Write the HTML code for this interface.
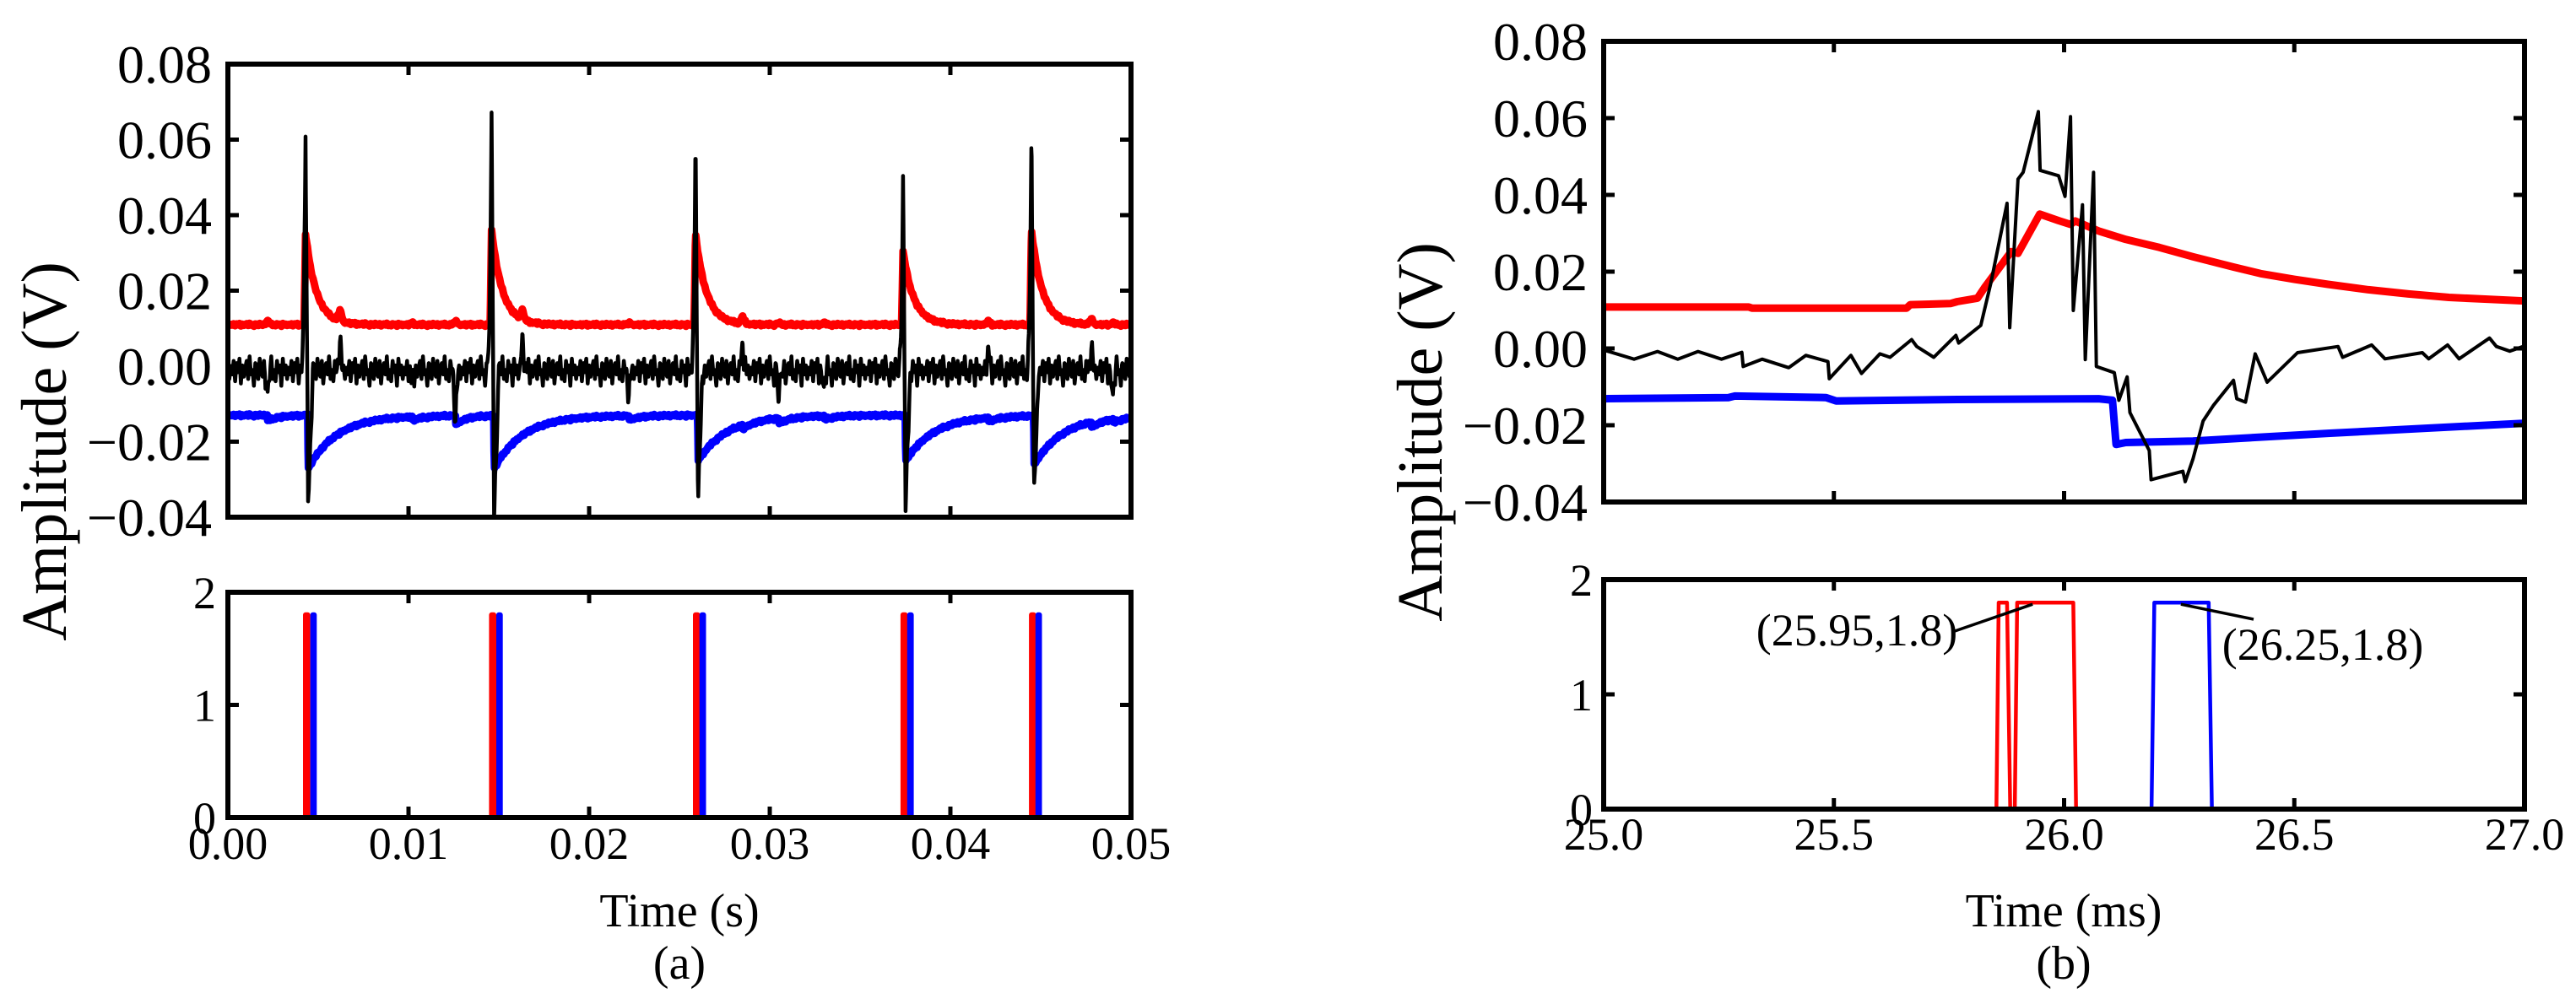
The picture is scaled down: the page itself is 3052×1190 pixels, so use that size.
<!DOCTYPE html>
<html><head><meta charset="utf-8">
<style>
html,body{margin:0;padding:0;background:#fff;}
svg{display:block;}
text{font-family:"Liberation Serif","Times New Roman",serif;}
</style></head>
<body>
<svg id="fig" width="3052" height="1190" viewBox="0 0 3052 1190" xmlns="http://www.w3.org/2000/svg" font-family="Liberation Serif, serif">
  <rect width="3052" height="1190" fill="#fff"/>
  <g id="panelA"></g>
  <g id="panelB"></g>
  <text font-family="Liberation Serif, serif" x="0" y="0" transform="translate(78,535) rotate(-90)" text-anchor="middle" font-size="76">Amplitude (V)</text>
  <text font-family="Liberation Serif, serif" x="0" y="0" transform="translate(1708,512) rotate(-90)" text-anchor="middle" font-size="76">Amplitude (V)</text>
  <text font-family="Liberation Serif, serif" x="805" y="1098" text-anchor="middle" font-size="56">Time (s)</text>
  <text font-family="Liberation Serif, serif" x="805" y="1160" text-anchor="middle" font-size="56">(a)</text>
  <text font-family="Liberation Serif, serif" x="2445" y="1098" text-anchor="middle" font-size="56">Time (ms)</text>
  <text font-family="Liberation Serif, serif" x="2445" y="1160" text-anchor="middle" font-size="56">(b)</text>
</svg>
<script>
// ---------- Panel (a) data ----------
const spikeTimes = [0.0043, 0.0146, 0.02589, 0.03738, 0.04449];
const blackPeaks = [0.063, 0.067, 0.0612, 0.0505, 0.0637];
const blackTroughs = [-0.036, -0.039, -0.0342, -0.0362, -0.0342];
const redBase = 0.011;
const redPeaks = [0.035, 0.036, 0.0349, 0.0304, 0.036];
const blueBase = -0.013;
const blueDips = [-0.027, -0.027, -0.025, -0.025, -0.026];
const blipTimes = [0.0022, 0.0062, 0.0102, 0.0126, 0.0163, 0.0222, 0.0285, 0.0305, 0.0330, 0.0421, 0.0478, 0.0490];
const blipBlack = [-0.007, 0.008, -0.004, -0.013, 0.008, -0.006, 0.007, -0.007, -0.006, 0.005, 0.006, -0.008];
const blipRed = [0.001, 0.003, 0.0005, 0.001, 0.0025, 0.0005, 0.002, 0.0005, 0.0005, 0.001, 0.0015, 0.0005];
const blipBlue = [-0.0015, 0, -0.001, -0.0025, 0, -0.0012, -0.001, -0.0015, -0.001, -0.001, -0.0015, -0.001];
const noiseVals = [0.001,-0.002,0.0005,-0.001,0.002,-0.0025,0.0015,-0.0005,0.0025,-0.003,0.001,-0.0015,0.0005,0.002,-0.002,0.003,-0.001,0.0,-0.0035,0.0015,0.001,-0.002,0.0025,-0.0005,-0.0015,0.002,-0.003,0.0005,0.0015,-0.001,0.003,-0.002,0.0,-0.0025,0.002,-0.0005,0.001,-0.0035,0.0025,-0.001];
const redPulseT = [0.0043, 0.0146, 0.02589, 0.03738, 0.04449];
const bluePulseT = [0.0047, 0.0150, 0.02625, 0.03775, 0.04485];
const pulseHigh = 1.8;
const xTicksA = ["0.00","0.01","0.02","0.03","0.04","0.05"];
const yTicksUpper = ["0.08","0.06","0.04","0.02","0.00","\u22120.02","\u22120.04"];
const yTicksLower = ["2","1","0"];

// ---------- Panel (b) data ----------
const bBlackT = [25.000,25.066,25.117,25.161,25.205,25.256,25.300,25.303,25.344,25.402,25.439,25.487,25.490,25.537,25.560,25.600,25.622,25.669,25.680,25.717,25.765,25.771,25.819,25.841,25.876,25.882,25.900,25.911,25.944,25.948,25.988,26.002,26.014,26.020,26.040,26.046,26.064,26.070,26.109,26.119,26.137,26.143,26.185,26.189,26.258,26.263,26.280,26.302,26.324,26.368,26.375,26.394,26.415,26.441,26.507,26.595,26.605,26.668,26.697,26.778,26.792,26.833,26.858,26.924,26.939,26.968,26.997];
const bBlackV = [-0.0004,-0.0028,-0.0008,-0.0028,-0.0008,-0.0028,-0.0010,-0.0047,-0.0028,-0.0050,-0.0018,-0.0034,-0.0079,-0.0018,-0.0065,-0.0014,-0.0023,0.0023,0.0005,-0.0023,0.0034,0.0014,0.0060,0.0171,0.0378,0.0054,0.0441,0.0459,0.0617,0.0464,0.0450,0.0396,0.0604,0.0099,0.0374,-0.0029,0.0459,-0.0047,-0.0063,-0.0135,-0.0074,-0.0167,-0.0266,-0.0342,-0.0320,-0.0347,-0.0288,-0.0189,-0.0149,-0.0083,-0.0131,-0.0140,-0.0014,-0.0088,-0.0011,0.0005,-0.0023,0.0009,-0.0027,-0.0011,-0.0027,0.0009,-0.0027,0.0027,0.0005,-0.0007,0.0005];
const bRedT = [25.000,25.315,25.322,25.658,25.666,25.753,25.768,25.812,25.827,25.885,25.900,25.947,25.988,26.014,26.024,26.075,26.134,26.207,26.280,26.368,26.427,26.500,26.573,26.661,26.748,26.836,26.924,26.997];
const bRedV = [0.0108,0.0108,0.0105,0.0105,0.0114,0.0117,0.0122,0.0131,0.0158,0.0252,0.0248,0.0350,0.0333,0.0323,0.0332,0.0306,0.0284,0.0263,0.0239,0.0212,0.0195,0.0180,0.0167,0.0153,0.0142,0.0133,0.0128,0.0124];
const bBlueT = [25.000,25.271,25.285,25.483,25.505,25.768,26.075,26.105,26.113,26.134,26.280,26.573,26.997];
const bBlueV = [-0.0131,-0.0128,-0.0124,-0.0128,-0.0137,-0.0133,-0.0131,-0.0135,-0.0250,-0.0245,-0.0241,-0.0221,-0.0195];
const bRedPulseT = [25.000,25.853,25.858,25.876,25.883,25.893,25.898,26.020,26.026,27.000];
const bRedPulseV = [0,0,1.8,1.8,0,0,1.8,1.8,0,0];
const bBluePulseT = [25.000,26.190,26.196,26.314,26.321,27.000];
const bBluePulseV = [0,0,1.8,1.8,0,0];
const xTicksB = ["25.0","25.5","26.0","26.5","27.0"];
const annotLabels = ["(25.95,1.8)","(26.25,1.8)"];
const annotX = [25.95, 26.25];
const annotY = [1.8, 1.8];

const NS = "http://www.w3.org/2000/svg";
function mk(parent, tag, attrs) {
  const e = document.createElementNS(NS, tag);
  for (const k in attrs) e.setAttribute(k, attrs[k]);
  parent.appendChild(e);
  return e;
}
function lin(d0, d1, r0, r1) { return v => r0 + (v - d0) / (d1 - d0) * (r1 - r0); }

const A = { x0: 270, x1: 1340, uy0: 76, uy1: 613, ly0: 702, ly1: 969 };
const B = { x0: 1900, x1: 2991, uy0: 49, uy1: 595, ly0: 687, ly1: 959 };
const xa = lin(0, 0.05, A.x0, A.x1);
const yaU = lin(0.08, -0.04, A.uy0, A.uy1);
const yaL = lin(2, 0, A.ly0, A.ly1);
const xb = lin(25, 27, B.x0, B.x1);
const ybU = lin(0.08, -0.04, B.uy0, B.uy1);
const ybL = lin(2, 0, B.ly0, B.ly1);

function frame(g, x0, x1, y0, y1, xTickPos, yTickPos, name) {
  for (const xp of xTickPos) {
    const t1 = mk(g, "line", {x1: xp, x2: xp, y1: y1, y2: y1 - 13, stroke: "#000", "stroke-width": 5});
    
    
    const t2 = mk(g, "line", {x1: xp, x2: xp, y1: y0, y2: y0 + 13, stroke: "#000", "stroke-width": 5});
    
    
  }
  for (const yp of yTickPos) {
    const t1 = mk(g, "line", {x1: x0, x2: x0 + 13, y1: yp, y2: yp, stroke: "#000", "stroke-width": 5});
    
    
    const t2 = mk(g, "line", {x1: x1, x2: x1 - 13, y1: yp, y2: yp, stroke: "#000", "stroke-width": 5});
    
    
  }
  const r = mk(g, "rect", {x: x0, y: y0, width: x1 - x0, height: y1 - y0, fill: "none", stroke: "#000", "stroke-width": 6});
  
  
}
function text(g, x, y, s, size, anchor, name) {
  const t = mk(g, "text", {x: x, y: y, "font-size": size, "text-anchor": anchor, "font-family": "Liberation Serif, serif"});
  t.textContent = s;
  
  
  return t;
}
function path(g, pts, color, w, name) {
  let d = "";
  pts.forEach((p, i) => { d += (i ? "L" : "M") + p[0].toFixed(1) + " " + p[1].toFixed(1); });
  const p = mk(g, "path", {d: d, fill: "none", stroke: color, "stroke-width": w, "stroke-linejoin": "round"});
  
  
  return p;
}

// ---------- Panel (a) ----------
const gA = document.getElementById("panelA");
function noise(t) {
  const f = t / 0.00008;
  const i = Math.floor(f), fr = f - i;
  const a = noiseVals[i % noiseVals.length], b = noiseVals[(i + 1) % noiseVals.length];
  return a + (b - a) * fr;
}
function tri(dt, w) { return Math.max(0, 1 - Math.abs(dt) / w); }
function blackA(t) {
  let v = -0.001 + noise(t) * 1.2;
  spikeTimes.forEach((s, k) => {
    const dt = t - s;
    if (dt > -0.0003 && dt <= 0) { v += blackPeaks[k] * Math.pow((dt + 0.0003) / 0.0003, 3); }
    else if (dt > 0 && dt <= 0.00014) { v += blackPeaks[k] + (blackTroughs[k] - blackPeaks[k]) * dt / 0.00014; }
    else if (dt > 0.00014 && dt <= 0.0004) { v += blackTroughs[k] * (1 - (dt - 0.00014) / 0.00026); }
  });
  blipTimes.forEach((b, k) => { v += blipBlack[k] * tri(t - b, 0.00015); });
  return v;
}
function redA(t) {
  let v = redBase + noise(t) * 0.12;
  spikeTimes.forEach((s, k) => {
    const dt = t - s;
    if (dt > -0.00008 && dt <= 0) v += (redPeaks[k] - redBase) * (dt + 0.00008) / 0.00008;
    else if (dt > 0) v += (redPeaks[k] - redBase) * Math.exp(-dt / 0.0006);
  });
  blipTimes.forEach((b, k) => { v += blipRed[k] * tri(t - b, 0.0002); });
  return v;
}
function blueA(t) {
  let v = blueBase + noise(t) * 0.12;
  spikeTimes.forEach((s, k) => {
    const dt = t - s - 0.00015;
    if (dt > -0.00003 && dt <= 0) v += (blueDips[k] - blueBase) * (dt + 0.00003) / 0.00003;
    else if (dt > 0) v += (blueDips[k] - blueBase) * Math.exp(-dt / 0.0016);
  });
  blipTimes.forEach((b, k) => { const dt = t - b; if (dt > 0) v += blipBlue[k] * Math.exp(-dt / 0.0006); });
  return v;
}
const gAU = mk(gA, "g", {});


const clipA = mk(gAU, "clipPath", {id: "clipAU"});
mk(clipA, "rect", {x: A.x0, y: A.uy0, width: A.x1 - A.x0, height: A.uy1 - A.uy0});
const blackPts = [], redPts = [], bluePts = [];
for (let t = 0; t <= 0.05; t += 0.00002) {
  blackPts.push([xa(t), yaU(blackA(t))]);
  redPts.push([xa(t), yaU(redA(t))]);
  bluePts.push([xa(t), yaU(blueA(t))]);
}
const cg = mk(gAU, "g", {"clip-path": "url(#clipAU)"});
path(cg, redPts, "#ff0000", 9, "red-series-a");
path(cg, bluePts, "#0000ff", 9, "blue-series-a");
path(cg, blackPts, "#000", 4.5, "black-series-a");
const yvU = [0.08, 0.06, 0.04, 0.02, 0, -0.02, -0.04];
frame(gAU, A.x0, A.x1, A.uy0, A.uy1, [0.01,0.02,0.03,0.04].map(xa), [0.06,0.04,0.02,0,-0.02].map(yaU), "upper-a");
yvU.forEach((v, i) => text(gAU, 251, yaU(v) + 22, yTicksUpper[i], 64, "end", "y-tick-label-a"));

const gAL = mk(gA, "g", {});


function pulsePts(times, xf, yf, w) {
  const pts = [[xf(0), yf(0)]];
  times.forEach(t => { pts.push([xf(t), yf(0)], [xf(t), yf(pulseHigh)], [xf(t + w), yf(pulseHigh)], [xf(t + w), yf(0)]); });
  pts.push([xf(0.05), yf(0)]);
  return pts;
}
path(gAL, pulsePts(redPulseT, xa, yaL, 0.00012), "#ff0000", 6, "red-pulses-a");
path(gAL, pulsePts(bluePulseT, xa, yaL, 0.00008), "#0000ff", 6, "blue-pulses-a");
frame(gAL, A.x0, A.x1, A.ly0, A.ly1, [0.01,0.02,0.03,0.04].map(xa), [yaL(1)], "lower-a");
[2, 1, 0].forEach((v, i) => text(gAL, 256, yaL(v) + 19, yTicksLower[i], 54, "end", "y-tick-label-a-lower"));
[0,0.01,0.02,0.03,0.04,0.05].forEach((v, i) => text(gAL, xa(v), 1018, xTicksA[i], 54, "middle", "x-tick-label-a"));

// ---------- Panel (b) ----------
const gB = document.getElementById("panelB");
const gBU = mk(gB, "g", {});


path(gBU, bRedT.map((t, i) => [xb(t), ybU(bRedV[i])]), "#ff0000", 9, "red-series-b");
path(gBU, bBlueT.map((t, i) => [xb(t), ybU(bBlueV[i])]), "#0000ff", 9, "blue-series-b");
path(gBU, bBlackT.map((t, i) => [xb(t), ybU(bBlackV[i])]), "#000", 4, "black-series-b");
frame(gBU, B.x0, B.x1, B.uy0, B.uy1, [25.5, 26, 26.5].map(xb), [0.06,0.04,0.02,0,-0.02].map(ybU), "upper-b");
yvU.forEach((v, i) => text(gBU, 1881, ybU(v) + 22, yTicksUpper[i], 64, "end", "y-tick-label-b"));

const gBL = mk(gB, "g", {});


path(gBL, bRedPulseT.map((t, i) => [xb(t), ybL(bRedPulseV[i])]), "#ff0000", 4.5, "red-pulse-b");
path(gBL, bBluePulseT.map((t, i) => [xb(t), ybL(bBluePulseV[i])]), "#0000ff", 4.5, "blue-pulse-b");
frame(gBL, B.x0, B.x1, B.ly0, B.ly1, [25.5, 26, 26.5].map(xb), [ybL(1)], "lower-b");
[2, 1, 0].forEach((v, i) => text(gBL, 1887, ybL(v) + 19, yTicksLower[i], 54, "end", "y-tick-label-b-lower"));
[25, 25.5, 26, 26.5, 27].forEach((v, i) => text(gBL, xb(v), 1007, xTicksB[i], 54, "middle", "x-tick-label-b"));
const ann1 = mk(gBL, "line", {x1: 2316, y1: 748, x2: xb(annotX[0]) - 10, y2: ybL(annotY[0]) + 2, stroke: "#000", "stroke-width": 3.5});


text(gBL, 2200, 765, annotLabels[0], 54, "middle", "annotation-label-1");
const ann2 = mk(gBL, "line", {x1: xb(annotX[1]) + 2, y1: ybL(annotY[1]) + 2, x2: 2670, y2: 734, stroke: "#000", "stroke-width": 3.5});


text(gBL, 2752, 782, annotLabels[1], 54, "middle", "annotation-label-2");
</script>
</body></html>
